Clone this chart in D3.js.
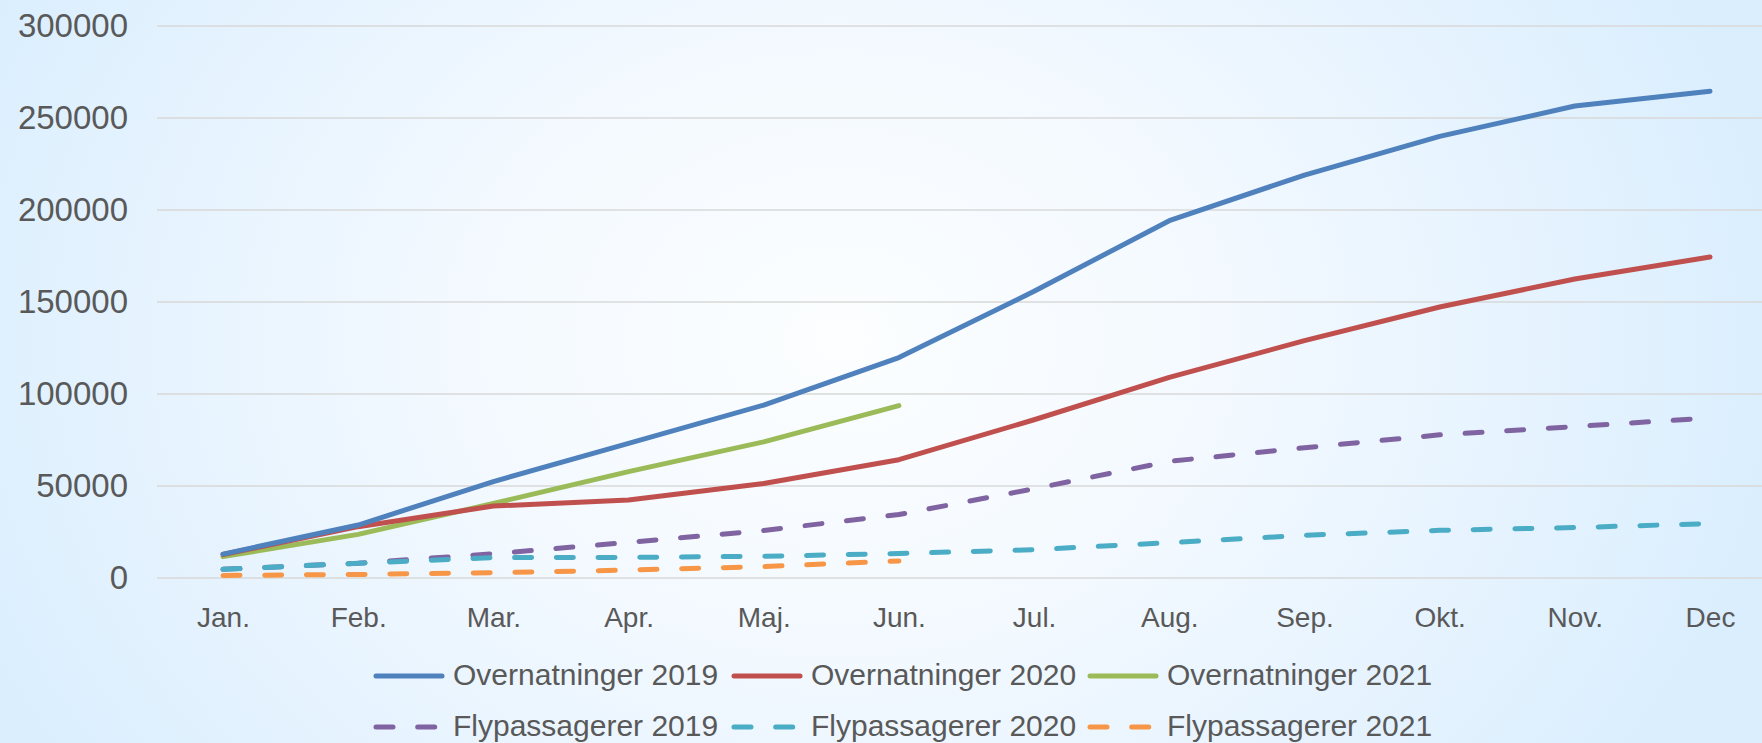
<!DOCTYPE html>
<html>
<head>
<meta charset="utf-8">
<script src="https://cdn.jsdelivr.net/npm/d3@7"></script>
<style>
  html, body { margin: 0; padding: 0; overflow: hidden; }
  svg { display: block; font-family: "Liberation Sans", Arial, sans-serif; }
</style>
</head>
<body>
<svg id="chart"></svg>
<script>
// month labels
const months = ["Jan.", "Feb.", "Mar.", "Apr.", "Maj.", "Jun.", "Jul.", "Aug.", "Sep.", "Okt.", "Nov.", "Dec"];
const yTicks = [0, 50000, 100000, 150000, 200000, 250000, 300000];

// values
const overnat2019 = [13000, 28800, 52400, 73200, 94000, 119800, 155800, 194200, 219000, 240000, 256500, 264500];
const overnat2020 = [12800, 27900, 39100, 42400, 51400, 64300, 86000, 109000, 129000, 147300, 162500, 174500];
const overnat2021 = [11600, 23700, 40500, 57800, 74000, 93700];
const fly2019 = [4700, 8000, 13200, 19400, 25800, 34500, 48500, 63400, 70800, 77800, 82300, 87000];
const fly2020 = [4700, 8000, 11100, 11200, 11800, 13300, 15400, 19200, 23200, 25900, 27400, 29600];
const fly2021 = [1400, 1900, 2900, 4300, 6200, 9300];

const seriesNames = ["Overnatninger 2019", "Overnatninger 2020", "Overnatninger 2021",
                     "Flypassagerer 2019", "Flypassagerer 2020", "Flypassagerer 2021"];
const seriesColors = ["#4f81bd", "#c0504d", "#9bbb59", "#8064a2", "#4bacc6", "#f79646"];
const seriesValues = [overnat2019, overnat2020, overnat2021, fly2019, fly2020, fly2021];

const width = 1762;
const height = 743;
const dash = "17,24.7";
const lineW = 5;

const svg = d3.select("#chart")
    .attr("width", width)
    .attr("height", height);

// background gradient
const defs = svg.append("defs");
const grad = defs.append("radialGradient")
    .attr("id", "bg")
    .attr("gradientUnits", "userSpaceOnUse")
    .attr("cx", 840).attr("cy", 340).attr("r", 960)
    .attr("gradientTransform", "translate(840,340) scale(1,0.8) translate(-840,-340)");
grad.append("stop").attr("offset", "0").attr("stop-color", "#fcfeff");
grad.append("stop").attr("offset", "0.4").attr("stop-color", "#f3f9ff");
grad.append("stop").attr("offset", "1").attr("stop-color", "#daeefe");

svg.append("rect")
    .attr("width", width)
    .attr("height", height)
    .attr("fill", "url(#bg)");

// scales
const x = d3.scalePoint()
    .domain(months)
    .range([223, 1710]);

const y = d3.scaleLinear()
    .domain([0, 300000])
    .range([578, 26]);

// gridlines
svg.append("g")
    .selectAll("line")
    .data(yTicks)
    .enter()
    .append("line")
    .attr("x1", 157)
    .attr("x2", width)
    .attr("y1", d => y(d))
    .attr("y2", d => y(d))
    .attr("stroke", "#d9d9d9")
    .attr("stroke-width", 1.5);

// y axis labels
const yAxis = svg.append("g")
    .attr("transform", "translate(128,0)")
    .call(d3.axisLeft(y).tickValues(yTicks).tickFormat(d3.format("d")).tickSize(0).tickPadding(0));
yAxis.select(".domain").remove();
yAxis.selectAll("text")
    .attr("fill", "#595959")
    .attr("font-size", "33px")
    .attr("font-family", "Liberation Sans, Arial, sans-serif");

// x axis labels
const xAxis = svg.append("g")
    .attr("transform", "translate(0,578)")
    .call(d3.axisBottom(x).tickSize(0).tickPadding(0));
xAxis.select(".domain").remove();
xAxis.selectAll("text")
    .attr("y", 49)
    .attr("dy", 0)
    .attr("fill", "#595959")
    .attr("font-size", "28px")
    .attr("font-family", "Liberation Sans, Arial, sans-serif");

// lines
const line = d3.line()
    .x((d, i) => x(months[i]))
    .y(d => y(d));

// draw dashed series first, solid on top where they overlap
const drawOrder = [5, 3, 4, 2, 1, 0];
drawOrder.forEach(k => {
    svg.append("path")
        .datum(seriesValues[k])
        .attr("d", line)
        .attr("fill", "none")
        .attr("stroke", seriesColors[k])
        .attr("stroke-width", lineW)
        .attr("stroke-linecap", "round")
        .attr("stroke-linejoin", "round")
        .attr("stroke-dasharray", k >= 3 ? dash : null);
});

// legend
const legendX = [376, 734, 1090];
const legendY = [676, 727];
const legend = svg.append("g");
seriesNames.forEach((name, k) => {
    const lx = legendX[k % 3];
    const ly = legendY[Math.floor(k / 3)];
    legend.append("line")
        .attr("x1", lx)
        .attr("x2", lx + 66)
        .attr("y1", ly)
        .attr("y2", ly)
        .attr("stroke", seriesColors[k])
        .attr("stroke-width", lineW)
        .attr("stroke-linecap", "round")
        .attr("stroke-dasharray", k >= 3 ? dash : null);
    legend.append("text")
        .attr("x", lx + 77)
        .attr("y", ly + 9)
        .attr("fill", "#595959")
        .attr("font-size", "30px")
        .text(name);
});
</script>
</body>
</html>
